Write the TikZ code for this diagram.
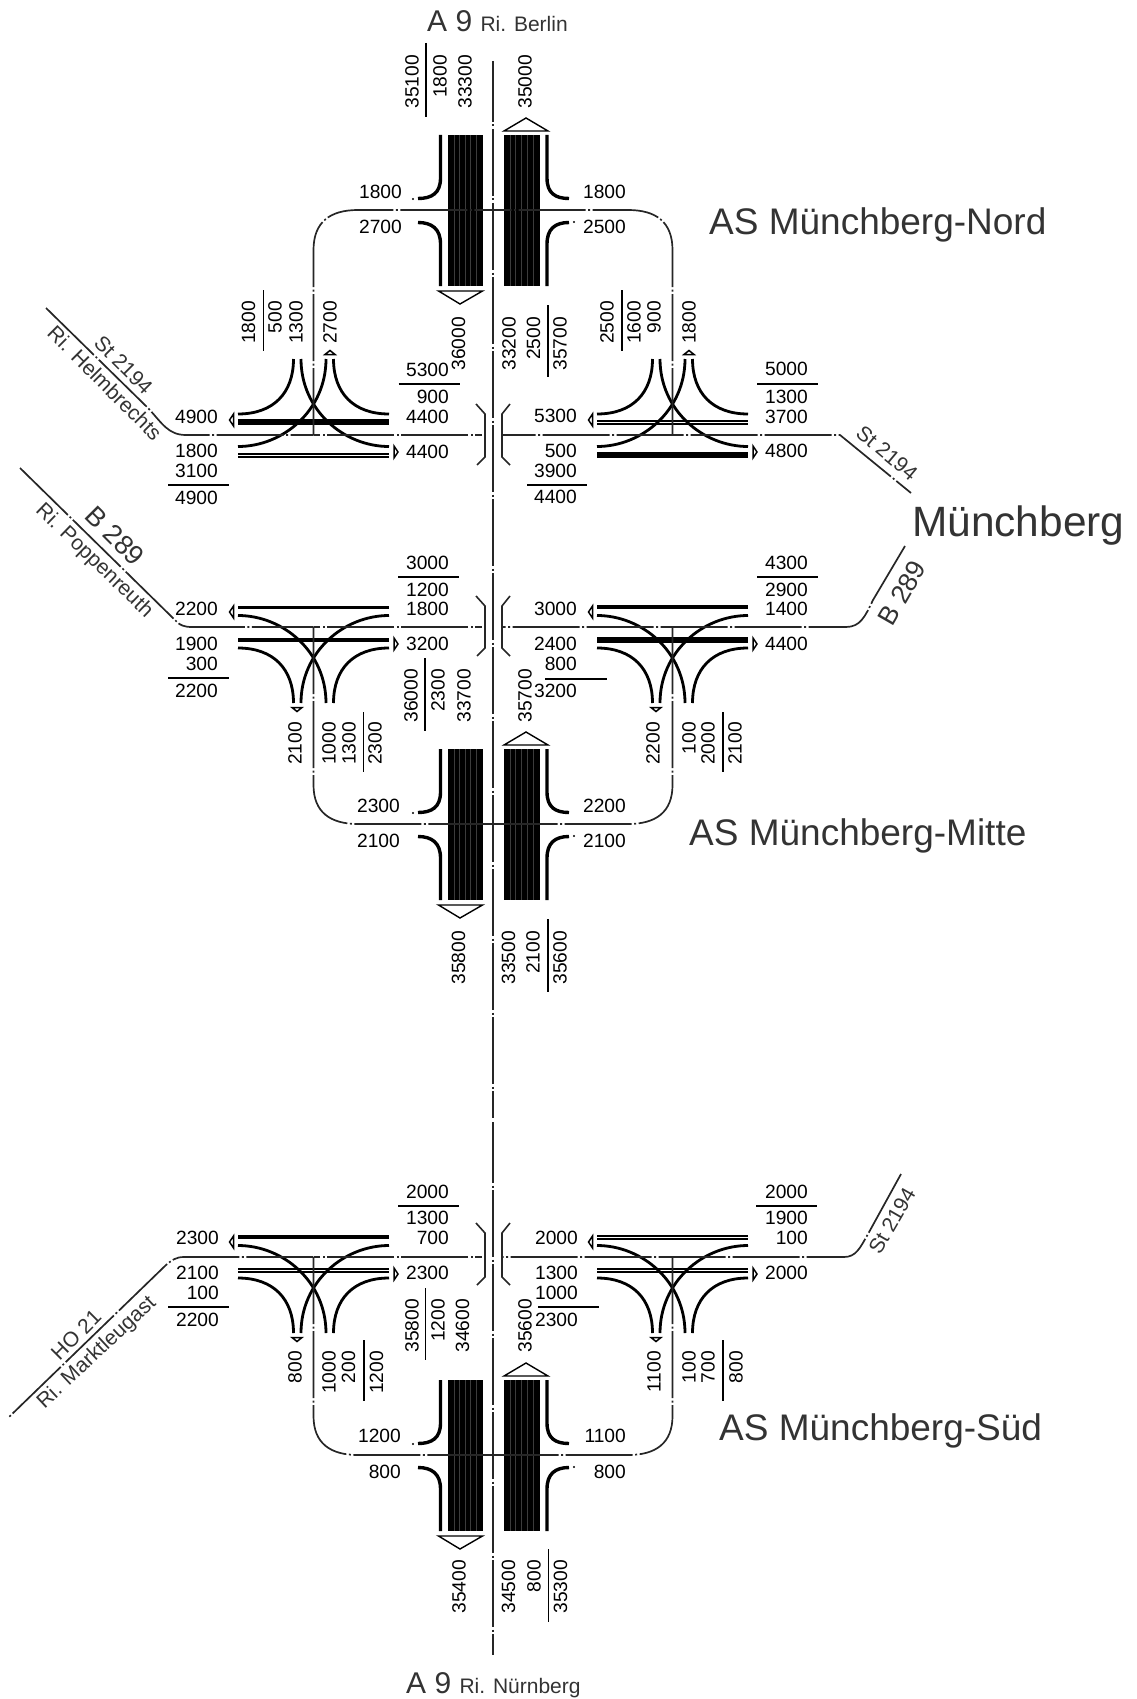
\documentclass[tikz,border=0pt]{standalone}
\usepackage{fontspec}
\setmainfont{Liberation Sans}
\usepackage{xcolor}
\definecolor{roadgray}{RGB}{38,38,38}
\definecolor{titlegray}{RGB}{51,51,51}
\definecolor{stripegray}{RGB}{60,60,60}
\tikzset{
  count/.style={inner sep=0pt, anchor=east, font=\fontsize{19.2}{19.2}\selectfont},
  vcount/.style={count, rotate=90},
  routename/.style={inner sep=0pt, text=titlegray, font=\fontsize{#1}{#1}\selectfont},
  title/.style={inner sep=0pt, anchor=base west, text=titlegray, font=\fontsize{37}{37}\selectfont},
  countrule/.style={line width=1.2pt},
  roadline/.style={line width=1.7pt, color=roadgray, dash pattern=on 67pt off 2.5pt on 2pt off 2.5pt},
  axisline/.style={roadline, line width=2.2pt},
  lane/.style={line width=2.8pt},
  ramp/.style={line width=3.4pt},
  barthick/.style={line width=6pt},
  barmid/.style={line width=4.5pt},
  barthin/.style={line width=3pt},
  bardouble/.style={line width=2pt, double, double distance=1pt},
  dirarrow/.style={line width=1.4pt, fill=white, line join=miter},
  smallarrow/.style={line width=1.5pt, fill=white},
  stripe/.style={line width=.4pt, color=stripegray},
  bracket/.style={line width=1.6pt, color=roadgray},
}
\begin{document}
\begin{tikzpicture}[x=1pt, y=-1pt]
  \useasboundingbox (0,0) rectangle (1136,1699);

  % Carriageways and slip roads of the three junctions
  \foreach \yc in {210,824,1455} {
    \begin{scope}[shift={(0,\yc)}]
      \fill (448,-75) rectangle (482.5,76);
      \fill (504,-75) rectangle (540,76);
      \foreach \sx in {454,459,465,470,476,510,515,521,527,533}
        \draw[stripe] (\sx,-75) -- (\sx,76);
      \draw[dirarrow] (504,-79) -- (548,-79) -- (526,-92) -- cycle;
      \draw[dirarrow] (438.5,81) -- (482.5,81) -- (460,94) -- cycle;
      \draw[ramp] (440.5,-75) -- (440.5,-32) .. controls (440.5,-17) and (432,-11.5) .. (418,-11.5);
      \draw[ramp] (440.5,76) -- (440.5,34) .. controls (440.5,19) and (432,12.5) .. (418,12.5);
      \draw[ramp] (547,-75) -- (547,-32) .. controls (547,-17) and (555,-11.5) .. (569,-11.5);
      \draw[ramp] (547,76) -- (547,34) .. controls (547,19) and (555,12.5) .. (569,12.5);
      \fill (413,-11) circle (1.2pt);
      \fill (574,12) circle (1.2pt);
    \end{scope}
  }

  % A 9
  \draw[axisline, dash phase=6pt] (493,61) -- (493,1118);
  \draw[axisline, dash phase=6pt] (493,1122) -- (493,1655);

  % Lanes at the six junctions
  \foreach \xc/\yc/\ys/\bara/\barb in {
      313.5/435/-1/bardouble/barthick, 672.5/435/-1/barthick/bardouble,
      313.5/627/1/barthin/barmid, 672.5/627/1/barmid/barthick,
      313.5/1257/1/barmid/bardouble, 672.5/1257/1/bardouble/bardouble} {
    \begin{scope}[shift={(\xc,\yc)}, yscale=\ys]
      \draw[\bara] (-75.5,-20) -- (75.5,-20);
      \draw[\barb] (-75.5,13) -- (75.5,13);
      \draw[lane] (-75.5,-11.5) .. controls (-30,-11.5) and (12.5,25) .. (12.5,76);
      \draw[lane] (75.5,-11.5) .. controls (30,-11.5) and (-12.5,25) .. (-12.5,76);
      \draw[lane] (-75.5,21) .. controls (-40,21) and (-20,42) .. (-20,76);
      \draw[lane] (75.5,21) .. controls (40,21) and (20,42) .. (20,76);
      \draw[smallarrow] (-80,{-15*\ys-6}) -- (-80,{-15*\ys+6}) -- (-84,{-15*\ys}) -- cycle;
      \draw[smallarrow] (80.5,{17*\ys-6}) -- (80.5,{17*\ys+6}) -- (84.5,{17*\ys}) -- cycle;
      \draw[smallarrow] ({-16.5*\ys-5},80.5) -- ({-16.5*\ys+5},80.5) -- ({-16.5*\ys},84.5) -- cycle;
    \end{scope}
  }

  % Cross roads, from the junction stems to the A 9
  \draw[roadline] (313.5,435) -- (313.5,250) .. controls (313.5,222) and (330,210) .. (358,210) -- (493,210);
  \draw[roadline] (672.5,435) -- (672.5,250) .. controls (672.5,222) and (656,210) .. (628,210) -- (493,210);
  \draw[roadline] (313.5,627) -- (313.5,785) .. controls (313.5,812) and (330,824) .. (358,824) -- (493,824);
  \draw[roadline] (672.5,627) -- (672.5,785) .. controls (672.5,812) and (656,824) .. (628,824) -- (493,824);
  \draw[roadline] (313.5,1257) -- (313.5,1416) .. controls (313.5,1443) and (330,1455) .. (358,1455) -- (493,1455);
  \draw[roadline] (672.5,1257) -- (672.5,1416) .. controls (672.5,1443) and (656,1455) .. (628,1455) -- (493,1455);

  % St 2194, B 289, HO 21
  \draw[roadline] (46,308) -- (148,408) .. controls (162,423) and (168,435) .. (186,435) -- (313.5,435);
  \draw[roadline, dash phase=60pt] (482,435) -- (313.5,435);
  \draw[roadline, dash phase=48pt] (911,493) -- (840,435) -- (502,435);
  \draw[roadline] (20,468) -- (177,622) .. controls (180,625) and (184,627) .. (192,627) -- (313.5,627);
  \draw[roadline, dash phase=60pt] (482,627) -- (313.5,627);
  \draw[roadline] (905,546) -- (873,600) .. controls (865,617) and (860,627) .. (846,627) -- (502,627);
  \draw[roadline, dash phase=69pt] (9,1417) -- (166,1265) .. controls (172,1260) and (176,1257) .. (184,1257) -- (313.5,1257);
  \draw[roadline, dash phase=60pt] (482,1257) -- (313.5,1257);
  \draw[roadline] (901,1174) -- (868,1234) .. controls (860,1248) and (856,1257) .. (844,1257) -- (502,1257);

  % Bridges
  \foreach \ya/\yb in {404/465,596/656,1223/1285} {
    \draw[bracket] (476,\ya) -- (485,{\ya+10}) -- (485,{\yb-8}) -- (477,\yb);
    \draw[bracket] (510,\ya) -- (502,{\ya+10}) -- (502,{\yb-8}) -- (510,\yb);
  }

  % Counts
  \foreach \x/\y/\t in {
      402/192/1800, 402/227/2700, 626/192/1800, 626/227/2500,
      218/417/4900, 218/451/1800, 218/471/3100, 218/498/4900,
      449/370/5300, 449/397/900, 449/417/4400, 449/452/4400,
      577/416/5300, 577/451/500, 577/471/3900, 577/497/4400,
      808/369/5000, 808/397/1300, 808/417/3700, 808/451/4800,
      218/609/2200, 218/644/1900, 218/664/300, 218/691/2200,
      449/563/3000, 449/590/1200, 449/609/1800, 449/644/3200,
      577/609/3000, 577/644/2400, 577/664/800, 577/691/3200,
      808/563/4300, 808/590/2900, 808/609/1400, 808/644/4400,
      400/806/2300, 400/841/2100, 626/806/2200, 626/841/2100,
      219/1238/2300, 219/1273/2100, 219/1293/100, 219/1320/2200,
      449/1192/2000, 449/1218/1300, 449/1238/700, 449/1273/2300,
      578/1238/2000, 578/1273/1300, 578/1293/1000, 578/1320/2300,
      808/1192/2000, 808/1218/1900, 808/1238/100, 808/1273/2000,
      401/1436/1200, 401/1472/800, 626/1436/1100, 626/1472/800}
    \node[count] (h\x-\y) at (\x,\y) {\t};
  \foreach \x/\y/\t in {
      412/55/35100, 440/55/1800, 465/55/33300, 525/55/35000,
      248.5/301/1800, 275/301/500, 296/301/1300, 330/301/2700,
      458.5/317/36000, 509/317/33200, 533.5/317/2500, 560/317/35700,
      607/301/2500, 634/301/1600, 654/301/900, 689/301/1800,
      411/669/36000, 438/669/2300, 464/669/33700, 525/669/35700,
      295/722/2100, 329/722/1000, 349/722/1300, 375/722/2300,
      653/722/2200, 689/722/100, 708/722/2000, 735/722/2100,
      458.5/931/35800, 508.5/931/33500, 533/931/2100, 560/931/35600,
      412/1299/35800, 438/1299/1200, 462.5/1299/34600, 525/1299/35600,
      295/1351/800, 329/1351/1000, 348.5/1351/200, 376.5/1351/1200,
      654/1351/1100, 689/1351/100, 708/1351/700, 736/1351/800,
      459/1560/35400, 508.5/1560/34500, 534/1560/800, 560.5/1560/35300}
    \node[vcount] (v\x-\y) at (\x,\y) {\t};

  % Rules between the counts
  \foreach \xa/\xb/\y in {
      168/229/485, 398.5/460/384, 527/587/485, 757/818/384,
      168/229/678, 398/459/577, 545/607/679, 757/818/577,
      168/229/1307, 398/459/1206, 538/599/1307, 756/817/1206}
    \draw[countrule] (\xa,\y) -- (\xb,\y);
  \foreach \x/\ya/\yb in {
      426/43/117, 263.5/290/351, 548/305/377, 622/290/351,
      425/658/731, 363.5/712/772, 723/712/772, 548/919/992,
      425.5/1288/1360, 364/1340/1401, 723/1340/1401, 548.5/1549/1622}
    \draw[countrule] (\x,\ya) -- (\x,\yb);

  % Names
  \node[title] (nord) at (709,234) {AS Münchberg-Nord};
  \node[title] (mitte) at (689,845) {AS Münchberg-Mitte};
  \node[title] (sued) at (719,1440) {AS Münchberg-Süd};
  \node[title, font=\fontsize{42.4}{42.4}\selectfont] (muenchberg) at (912,536) {Münchberg};
  \node[title, font=\fontsize{30}{30}\selectfont] (berlin) at (427,32) {A 9 \fontsize{21}{21}\selectfont Ri. Berlin};
  \node[title, font=\fontsize{30}{30}\selectfont] (nuernberg) at (406,1693) {A 9 \fontsize{21}{21}\selectfont Ri. Nürnberg};

  \node[routename=21, rotate=-45] (stleft) at (123.5,365) {St 2194};
  \node[routename=21, rotate=-45] (helmbrechts) at (105,383) {Ri. Helmbrechts};
  \node[routename=21, rotate=-40] (stright) at (887,453) {St 2194};
  \node[routename=27, rotate=-45] (bleft) at (115,536) {B 289};
  \node[routename=21, rotate=-44] (poppenreuth) at (94,561) {Ri. Poppenreuth};
  \node[routename=26.5, rotate=60] (bright) at (902,593) {B 289};
  \node[routename=21, rotate=45] (holeft) at (76,1335) {HO 21};
  \node[routename=21, rotate=43] (marktleugast) at (97,1353) {Ri. Marktleugast};
  \node[routename=21, rotate=60] (stsued) at (892,1221) {St 2194};
\end{tikzpicture}
\end{document}
